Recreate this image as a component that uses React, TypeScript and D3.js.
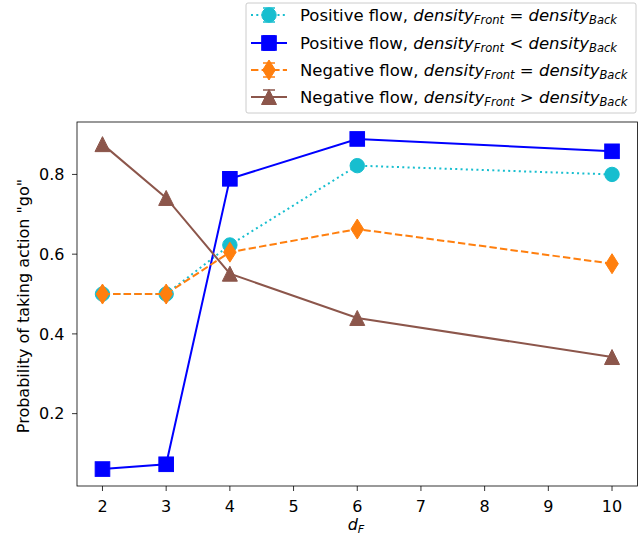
import React from "react";
import * as d3 from "d3";

const xValues = [2, 3, 4, 6, 10];
const posEqual = [0.5, 0.5, 0.623, 0.822, 0.8];
const posLess = [0.061, 0.073, 0.789, 0.889, 0.858];
const negEqual = [0.5, 0.5, 0.605, 0.663, 0.576];
const negGreater = [0.876, 0.741, 0.551, 0.44, 0.342];
const xTicks = [2, 3, 4, 5, 6, 7, 8, 9, 10];
const yTicks = [0.2, 0.4, 0.6, 0.8];

type Series = {
  values: number[];
  color: string;
  dash: string;
  marker: "circle" | "square" | "diamond" | "triangle";
  flow: string;
  op: string;
};

const series: Series[] = [
  { values: posEqual, color: "#17becf", dash: "2,3.3", marker: "circle", flow: "Positive flow, ", op: "=" },
  { values: posLess, color: "#0000ff", dash: "", marker: "square", flow: "Positive flow, ", op: "<" },
  { values: negEqual, color: "#ff7f0e", dash: "7.4,3.2", marker: "diamond", flow: "Negative flow, ", op: "=" },
  { values: negGreater, color: "#8c564b", dash: "", marker: "triangle", flow: "Negative flow, ", op: ">" },
];

const FONT = "DejaVu Sans";
const FS = 16;
const LFS = 16.5;

function Marker({ type, x, y, color }: { type: string; x: number; y: number; color: string }) {
  if (type === "circle") return <circle cx={x} cy={y} r={7.2} fill={color} stroke={color} strokeWidth={1} />;
  if (type === "square") return <rect x={x - 7.3} y={y - 7.3} width={14.6} height={14.6} fill={color} stroke={color} strokeWidth={1} />;
  if (type === "diamond")
    return <path d={`M${x},${y - 10}L${x + 6.3},${y}L${x},${y + 10}L${x - 6.3},${y}Z`} fill={color} stroke={color} strokeWidth={1} />;
  return <path d={`M${x},${y - 7.5}L${x + 7.5},${y + 7.5}L${x - 7.5},${y + 7.5}Z`} fill={color} stroke={color} strokeWidth={1} />;
}

export default function App() {
  const left = 77, right = 637.5, top = 122, bottom = 486;
  const x = d3.scaleLinear().domain([1.6, 10.4]).range([left, right]);
  const y = d3.scaleLinear().domain([0.0185, 0.9315]).range([bottom, top]);
  const line = d3.line<number>().x((_, i) => x(xValues[i])).y((d) => y(d));

  const legX = 246, legY = 3, legW = 390, legH = 110;
  const rowY = [15, 43, 70, 97];

  return (
    <svg width={640} height={537} style={{ position: "absolute", left: 0, top: 0 }} fontFamily={FONT}>
      <rect width={640} height={537} fill="white" />
      {series.map((s, k) => (
        <g key={k}>
          <path d={line(s.values) || ""} fill="none" stroke={s.color} strokeWidth={2} strokeDasharray={s.dash} />
          {s.values.map((v, i) => (
            <Marker key={i} type={s.marker} x={x(xValues[i])} y={y(v)} color={s.color} />
          ))}
        </g>
      ))}
      <rect x={left} y={top} width={right - left} height={bottom - top} fill="none" stroke="black" strokeWidth={0.8} />
      {xTicks.map((t) => (
        <g key={t}>
          <line x1={x(t)} x2={x(t)} y1={bottom} y2={bottom + 5} stroke="black" strokeWidth={0.8} />
          <text x={x(t)} y={bottom + 26} textAnchor="middle" fontSize={FS} fill="black">{t}</text>
        </g>
      ))}
      {yTicks.map((t) => (
        <g key={t}>
          <line x1={left} x2={left - 5} y1={y(t)} y2={y(t)} stroke="black" strokeWidth={0.8} />
          <text x={left - 12.5} y={y(t) + 5.8} textAnchor="end" fontSize={FS} fill="black">{t.toFixed(1)}</text>
        </g>
      ))}
      <text x={356} y={530} textAnchor="middle" fontSize={FS} fontStyle="italic">
        d<tspan fontSize={FS * 0.7} dy={2.5}>F</tspan>
      </text>
      <text transform={`translate(28.5,306) rotate(-90)`} textAnchor="middle" fontSize={FS}>
        Probability of taking action "go"
      </text>
      <rect x={legX} y={legY} width={legW} height={legH} rx={2} fill="white" fillOpacity={0.8} stroke="#cccccc" strokeWidth={1} />
      {series.map((s, k) => {
        const cy = rowY[k];
        return (
          <g key={k}>
            <line x1={251} x2={287} y1={cy} y2={cy} stroke={s.color} strokeWidth={2} strokeDasharray={s.dash} />
            <line x1={269} x2={269} y1={cy - 7} y2={cy + 7} stroke={s.color} strokeWidth={1.5} />
            <line x1={263} x2={275} y1={cy - 7} y2={cy - 7} stroke={s.color} strokeWidth={1.5} />
            <line x1={263} x2={275} y1={cy + 7} y2={cy + 7} stroke={s.color} strokeWidth={1.5} />
            <Marker type={s.marker} x={269} y={cy} color={s.color} />
            <text x={300} y={cy + 5.5} fontSize={LFS} fill="black">
              {s.flow}
              <tspan fontStyle="italic">density</tspan>
              <tspan fontStyle="italic" fontSize={LFS * 0.7} dy={3.5}>Front</tspan>
              <tspan dy={-3.5}>{` ${s.op} `}</tspan>
              <tspan fontStyle="italic">density</tspan>
              <tspan fontStyle="italic" fontSize={LFS * 0.7} dy={3.5}>Back</tspan>
            </text>
          </g>
        );
      })}
    </svg>
  );
}
